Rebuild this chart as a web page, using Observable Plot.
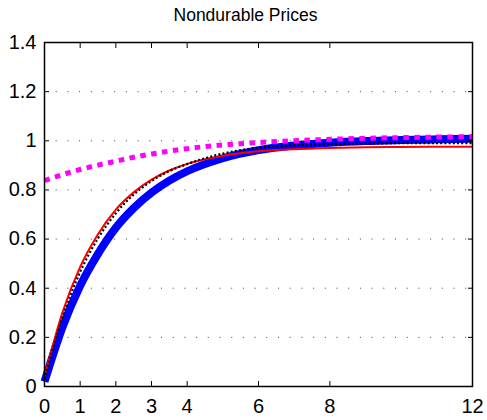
<!DOCTYPE html>
<html>
<head>
<meta charset="utf-8">
<script src="https://cdn.jsdelivr.net/npm/d3@7"></script>
<script src="https://cdn.jsdelivr.net/npm/@observablehq/plot@0.6"></script>
<style>
  html, body { margin: 0; padding: 0; background: #fff; }
  svg { display: block; }
  g[aria-label$="tick label"] text { font-size: 20px; }
  g[aria-label="text"] text { font-size: 17.5px; }
</style>
</head>
<body>
<div id="chart"></div>
<script>
const title = "Nondurable Prices";
const t       = [0, 0.5, 1, 1.5, 2, 2.5, 3, 3.5, 4, 5, 6, 7, 8, 9, 10, 11, 12];
const blue    = [0.02, 0.24, 0.41, 0.54, 0.646, 0.726, 0.789, 0.838, 0.876, 0.929, 0.962, 0.981, 0.992, 0.999, 1.003, 1.006, 1.008];
const black   = [0.03, 0.28, 0.466, 0.603, 0.705, 0.781, 0.836, 0.877, 0.905, 0.948, 0.972, 0.982, 0.987, 0.989, 0.99, 0.99, 0.99];
const red     = [0.04, 0.30, 0.487, 0.62, 0.72, 0.79, 0.842, 0.879, 0.906, 0.939, 0.957, 0.966, 0.971, 0.974, 0.975, 0.976, 0.976];
const magenta = [0.838, 0.862, 0.883, 0.901, 0.917, 0.933, 0.946, 0.958, 0.968, 0.983, 0.993, 1.0, 1.006, 1.01, 1.013, 1.015, 1.017];
const xTicks = [0, 1, 2, 3, 4, 6, 8, 12];
const yTicks = [0, 0.2, 0.4, 0.6, 0.8, 1, 1.2, 1.4];
const yTickLabels = ["0", "0.2", "0.4", "0.6", "0.8", "1", "1.2", "1.4"];
const yGrid = [0.2, 0.4, 0.6, 0.8, 1, 1.2];

const rows = (ys) => t.map((x, i) => ({x, y: ys[i]}));

const chart = Plot.plot({
  width: 487,
  height: 420,
  marginLeft: 44,
  marginRight: 15,
  marginTop: 42,
  marginBottom: 34,
  style: {fontFamily: "'Liberation Sans', Arial, sans-serif", fontSize: "18px", color: "#000", background: "#fff"},
  x: {domain: [0, 12]},
  y: {domain: [0, 1.4]},
  marks: [
    Plot.ruleY(yGrid, {stroke: "#000", strokeWidth: 1, strokeDasharray: "1,10.7", strokeOpacity: 0.75}),
    Plot.line(rows(blue), {x: "x", y: "y", stroke: "#0000ff", strokeWidth: 8, strokeLinecap: "butt", curve: "monotone-x"}),
    Plot.line(rows(red), {x: "x", y: "y", stroke: "#ff0000", strokeWidth: 2, strokeLinecap: "butt", curve: "monotone-x"}),
    Plot.line(rows(black), {x: "x", y: "y", stroke: "#000", strokeWidth: 2.2, strokeDasharray: "2,2.2", strokeLinecap: "butt", curve: "monotone-x"}),
    Plot.line(rows(magenta), {x: "x", y: "y", stroke: "#ff00ff", strokeWidth: 5, strokeDasharray: "5.5,5.5", strokeLinecap: "butt", curve: "monotone-x"}),
    Plot.axisX({anchor: "bottom", ticks: xTicks, tickSize: -5, tickPadding: 17, tickFormat: d => String(d), label: null}),
    Plot.axisX({anchor: "top", ticks: xTicks, tickSize: -5, tickFormat: () => "", label: null}),
    Plot.axisY({anchor: "left", ticks: yTicks, tickSize: -5, tickPadding: 13, tickFormat: (d, i) => yTickLabels[i], label: null}),
    Plot.axisY({anchor: "right", ticks: yTicks, tickSize: -5, tickFormat: () => "", label: null}),
    Plot.frame({stroke: "#000", strokeWidth: 1.5}),
    Plot.text([title], {frameAnchor: "top", dx: -13, dy: -34, fill: "#000"})
  ]
});
document.getElementById("chart").appendChild(chart);
</script>
</body>
</html>
